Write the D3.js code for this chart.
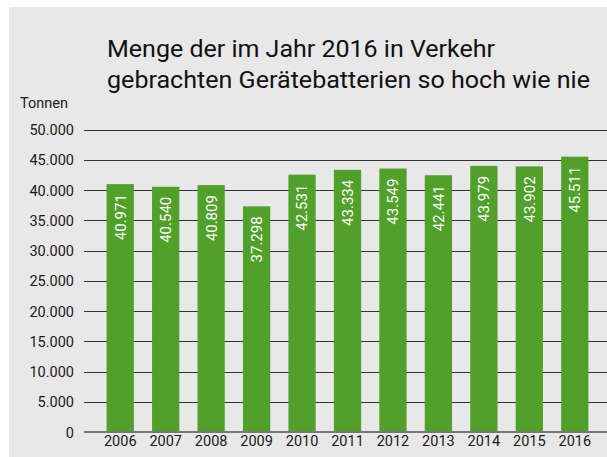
<!DOCTYPE html>
<html><head><meta charset="utf-8">
<script src="https://cdn.jsdelivr.net/npm/d3@7"></script>
<style>
html,body{margin:0;padding:0;background:#fff;}
text{font-family:Roboto,"Open Sans",sans-serif;}
</style></head>
<body>
<svg id="c" width="607" height="457"></svg>
<script>
const years = ["2006","2007","2008","2009","2010","2011","2012","2013","2014","2015","2016"];
const values = [40971,40540,40809,37298,42531,43334,43549,42441,43979,43902,45511];
const labels = ["40.971","40.540","40.809","37.298","42.531","43.334","43.549","42.441","43.979","43.902","45.511"];
const yTicks = [0,5000,10000,15000,20000,25000,30000,35000,40000,45000,50000];
const tickLabels = ["0","5.000","10.000","15.000","20.000","25.000","30.000","35.000","40.000","45.000","50.000"];
const titleLines = ["Menge der im Jahr 2016 in Verkehr","gebrachten Gerätebatterien so hoch wie nie"];
const unit = "Tonnen";

const svg = d3.select("#c");
svg.append("rect").attr("x",9).attr("y",7).attr("width",598).attr("height",450).attr("fill","#e8e8e8");

const y = d3.scaleLinear().domain([0,50000]).range([432,129.5]);
const x = d3.scaleBand().domain(years).range([97.5,597.5]).paddingInner(0.4).paddingOuter(0.2);

// grid
const gridX0 = 84, gridX1 = 607;
svg.append("g").selectAll("line").data(yTicks.filter(d=>d>0)).join("line")
  .attr("x1",gridX0).attr("x2",gridX1)
  .attr("y1",d=>Math.round(y(d))+0.5).attr("y2",d=>Math.round(y(d))+0.5)
  .attr("stroke","#333").attr("stroke-width",1);

// y axis labels
const yAxis = d3.axisLeft(y).tickValues(yTicks).tickSize(0).tickPadding(0)
  .tickFormat((d,i)=>tickLabels[i]);
const ga = svg.append("g").attr("transform","translate(74,0)").call(yAxis);
ga.select(".domain").remove();
ga.selectAll("text").attr("font-size",14.5).attr("fill","#1a1a1a").attr("font-family","Roboto, sans-serif").attr("dy","0.35em");

// bars
svg.append("g").selectAll("rect").data(values).join("rect")
  .attr("x",(d,i)=>x(years[i])).attr("width",x.bandwidth())
  .attr("y",d=>y(d)).attr("height",d=>y(0)-y(d))
  .attr("fill","#51a02a");

// baseline
svg.append("line").attr("x1",gridX0).attr("x2",gridX1).attr("y1",432).attr("y2",432)
  .attr("stroke","#777").attr("stroke-width",2);

// bar labels
svg.append("g").selectAll("text").data(values).join("text")
  .attr("transform",(d,i)=>`translate(${x(years[i])+x.bandwidth()/2},${y(d)+10}) rotate(-90)`)
  .attr("text-anchor","end").attr("dy","0.36em")
  .attr("font-size",15).attr("fill","#fff")
  .text((d,i)=>labels[i]);

// x axis labels
const xAxis = d3.axisBottom(x).tickSize(0).tickPadding(0);
const gx = svg.append("g").attr("transform","translate(0,436)").call(xAxis);
gx.select(".domain").remove();
gx.selectAll("text").attr("font-size",14.5).attr("fill","#1a1a1a").attr("font-family","Roboto, sans-serif").attr("dy","0.71em");

// title
const titleW = [388, 483];
svg.append("g").selectAll("text").data(titleLines).join("text")
  .attr("x",107).attr("y",(d,i)=>57+i*31)
  .attr("font-size",23).attr("font-weight",400).attr("fill","#111")
  .attr("textLength",(d,i)=>titleW[i]).attr("lengthAdjust","spacingAndGlyphs")
  .text(d=>d);

svg.append("text").attr("x",20).attr("y",108).attr("font-size",14.5).attr("fill","#1a1a1a").text(unit);
</script>
</body></html>
